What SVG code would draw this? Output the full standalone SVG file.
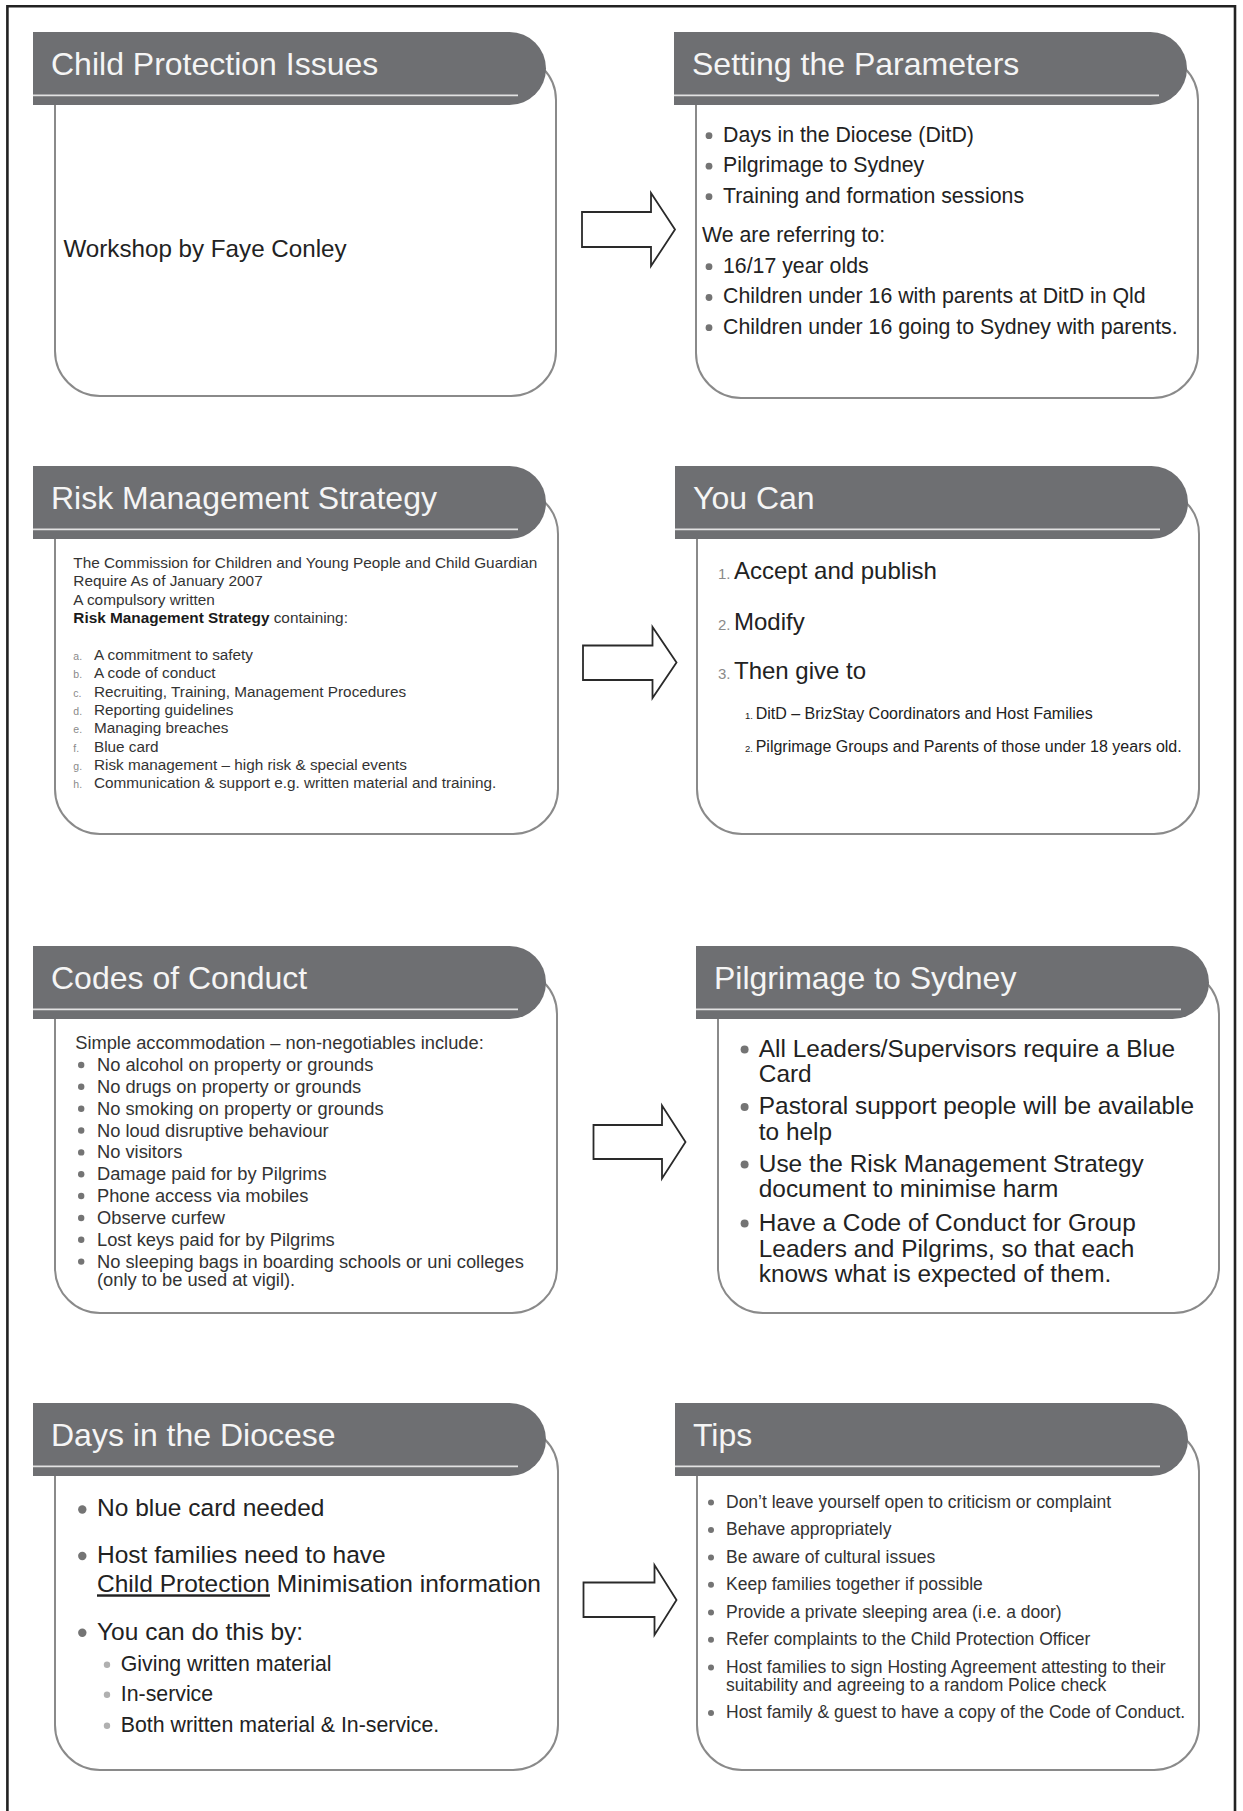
<svg xmlns="http://www.w3.org/2000/svg" xmlns:xlink="http://www.w3.org/1999/xlink" width="1243" height="1811" viewBox="0 0 1243 1811">
<style>
.hdr{fill:#6e6f72}
.hl{stroke:#e2e2e2;stroke-width:1.8}
.box{fill:#fff;stroke:#8a8a8a;stroke-width:2}
.ttl{font-family:"Liberation Sans",Arial,sans-serif;font-size:32px;fill:#f5f5f5}
.t{font-family:"Liberation Sans",Arial,sans-serif;fill:#222}
.s{fill:#333}
.num{fill:#8a8a8a}
.b{fill:#747474}
.b2{fill:#b0b0b0}
.arrow{fill:#fff;stroke:#2a2a2a;stroke-width:1.8;stroke-linejoin:miter}
</style>
<defs>
<g id="hdr">
<path class="hdr" d="M0,0 H476.5 A36.5,36.5 0 0 1 513,36.5 A36.5,36.5 0 0 1 476.5,73 H0 Z"/>
<line class="hl" x1="0" y1="63.3" x2="485" y2="63.3"/>
</g>
</defs>
<rect width="1243" height="1811" fill="#fff"/>
<path d="M7.4,1811 V6.2 H1235 V1811" fill="none" stroke="#222" stroke-width="2.6"/>

<g id="p1">
<rect class="box" x="55" y="55" width="501" height="341" rx="45"/>
<use xlink:href="#hdr" x="33" y="32"/>
<text class="ttl" x="51" y="75">Child Protection Issues</text>
<text class="t" x="63.4" y="256.7" font-size="24.2">Workshop by Faye Conley</text>
</g>

<g id="p2">
<rect class="box" x="696" y="55" width="502" height="343" rx="45"/>
<use xlink:href="#hdr" x="674" y="32"/>
<text class="ttl" x="692" y="75">Setting the Parameters</text>
<g class="b">
<circle cx="709" cy="135.7" r="3.4"/><circle cx="709" cy="166.2" r="3.4"/><circle cx="709" cy="196.7" r="3.4"/>
<circle cx="709" cy="266.7" r="3.4"/><circle cx="709" cy="297.5" r="3.4"/><circle cx="709" cy="327.7" r="3.4"/>
</g>
<g class="t" font-size="21.3">
<text x="723" y="141.5">Days in the Diocese (DitD)</text>
<text x="723" y="172">Pilgrimage to Sydney</text>
<text x="723" y="202.5">Training and formation sessions</text>
<text x="702" y="241.5">We are referring to:</text>
<text x="723" y="272.5">16/17 year olds</text>
<text x="723" y="303.3">Children under 16 with parents at DitD in Qld</text>
<text x="723" y="333.5">Children under 16 going to Sydney with parents.</text>
</g>
</g>

<g id="p3">
<rect class="box" x="55" y="489" width="503" height="345" rx="45"/>
<use xlink:href="#hdr" x="33" y="466"/>
<text class="ttl" x="51" y="509">Risk Management Strategy</text>
<g class="t s" font-size="15.35">
<text x="73.3" y="567.5">The Commission for Children and Young People and Child Guardian</text>
<text x="73.3" y="586">Require As of January 2007</text>
<text x="73.3" y="604.5">A compulsory written</text>
<text x="73.3" y="623"><tspan font-weight="bold" fill="#1a1a1a">Risk Management Strategy</tspan> containing:</text>
</g>
<g class="t num" font-size="10.5">
<text x="73.3" y="660">a.</text><text x="73.3" y="678.3">b.</text><text x="73.3" y="696.6">c.</text><text x="73.3" y="715">d.</text>
<text x="73.3" y="733.3">e.</text><text x="73.3" y="751.6">f.</text><text x="73.3" y="770">g.</text><text x="73.3" y="788.3">h.</text>
</g>
<g class="t s" font-size="15.3">
<text x="94" y="660">A commitment to safety</text>
<text x="94" y="678.3">A code of conduct</text>
<text x="94" y="696.6">Recruiting, Training, Management Procedures</text>
<text x="94" y="715">Reporting guidelines</text>
<text x="94" y="733.3">Managing breaches</text>
<text x="94" y="751.6">Blue card</text>
<text x="94" y="770">Risk management – high risk &amp; special events</text>
<text x="94" y="788.3">Communication &amp; support e.g. written material and training.</text>
</g>
</g>

<g id="p4">
<rect class="box" x="697" y="489" width="502" height="345" rx="45"/>
<use xlink:href="#hdr" x="675" y="466"/>
<text class="ttl" x="693" y="509">You Can</text>
<g class="t num" font-size="15">
<text x="718" y="579">1.</text><text x="718" y="630">2.</text><text x="718" y="679.3">3.</text>
</g>
<g class="t" font-size="24" fill="#111">
<text x="734" y="579">Accept and publish</text>
<text x="734" y="630">Modify</text>
<text x="734" y="679.3">Then give to</text>
</g>
<g class="t" font-size="9.5" fill="#aaa">
<text x="745" y="719.3">1.</text><text x="745" y="751.7">2.</text>
</g>
<g class="t" font-size="16" fill="#444">
<text x="755.7" y="719.3">DitD – BrizStay Coordinators and Host Families</text>
<text x="755.7" y="751.7">Pilgrimage Groups and Parents of those under 18 years old.</text>
</g>
</g>

<g id="p5">
<rect class="box" x="55" y="969" width="502" height="344" rx="45"/>
<use xlink:href="#hdr" x="33" y="946"/>
<text class="ttl" x="51" y="989">Codes of Conduct</text>
<g class="b">
<circle cx="81.2" cy="1065" r="3.2"/><circle cx="81.2" cy="1086.8" r="3.2"/><circle cx="81.2" cy="1108.7" r="3.2"/>
<circle cx="81.2" cy="1130.5" r="3.2"/><circle cx="81.2" cy="1152.4" r="3.2"/><circle cx="81.2" cy="1174.2" r="3.2"/>
<circle cx="81.2" cy="1196" r="3.2"/><circle cx="81.2" cy="1218" r="3.2"/><circle cx="81.2" cy="1239.8" r="3.2"/>
<circle cx="81.2" cy="1261.6" r="3.2"/>
</g>
<g class="t s" font-size="18.3">
<text x="75.2" y="1049.3">Simple accommodation – non-negotiables include:</text>
<text x="97" y="1071">No alcohol on property or grounds</text>
<text x="97" y="1092.8">No drugs on property or grounds</text>
<text x="97" y="1114.7">No smoking on property or grounds</text>
<text x="97" y="1136.5">No loud disruptive behaviour</text>
<text x="97" y="1158.4">No visitors</text>
<text x="97" y="1180.2">Damage paid for by Pilgrims</text>
<text x="97" y="1202">Phone access via mobiles</text>
<text x="97" y="1224">Observe curfew</text>
<text x="97" y="1245.8">Lost keys paid for by Pilgrims</text>
<text x="97" y="1267.6">No sleeping bags in boarding schools or uni colleges</text>
<text x="97" y="1285.6">(only to be used at vigil).</text>
</g>
</g>

<g id="p6">
<rect class="box" x="718" y="969" width="501" height="344" rx="45"/>
<use xlink:href="#hdr" x="696" y="946"/>
<text class="ttl" x="714" y="989">Pilgrimage to Sydney</text>
<g class="b">
<circle cx="744.6" cy="1049.5" r="4"/><circle cx="744.6" cy="1107" r="4"/>
<circle cx="744.6" cy="1164.5" r="4"/><circle cx="744.6" cy="1223.5" r="4"/>
</g>
<g class="t" font-size="24.4">
<text x="758.8" y="1056.7">All Leaders/Supervisors require a Blue</text>
<text x="758.8" y="1082.3">Card</text>
<text x="758.8" y="1114.3">Pastoral support people will be available</text>
<text x="758.8" y="1140">to help</text>
<text x="758.8" y="1171.7">Use the Risk Management Strategy</text>
<text x="758.8" y="1197.3">document to minimise harm</text>
<text x="758.8" y="1230.7">Have a Code of Conduct for Group</text>
<text x="758.8" y="1256.5">Leaders and Pilgrims, so that each</text>
<text x="758.8" y="1281.5">knows what is expected of them.</text>
</g>
</g>

<g id="p7">
<rect class="box" x="55" y="1426" width="503" height="344" rx="45"/>
<use xlink:href="#hdr" x="33" y="1403"/>
<text class="ttl" x="51" y="1446">Days in the Diocese</text>
<g class="b">
<circle cx="82.3" cy="1509.5" r="4.2"/><circle cx="82.3" cy="1556" r="4.2"/><circle cx="82.3" cy="1632.8" r="4.2"/>
</g>
<g class="b2">
<circle cx="107" cy="1664.7" r="3.2"/><circle cx="107" cy="1694.7" r="3.2"/><circle cx="107" cy="1725.7" r="3.2"/>
</g>
<g class="t" font-size="24.5">
<text x="97" y="1516">No blue card needed</text>
<text x="97" y="1562.7">Host families need to have</text>
<text x="97" y="1592.3"><tspan text-decoration="underline">Child Protection</tspan> Minimisation information</text>
<text x="97" y="1639.5">You can do this by:</text>
</g>
<g class="t" font-size="21.3" fill="#2a2a2a">
<text x="120.8" y="1670.7">Giving written material</text>
<text x="120.8" y="1700.7">In-service</text>
<text x="120.8" y="1731.7">Both written material &amp; In-service.</text>
</g>
</g>

<g id="p8">
<rect class="box" x="697" y="1426" width="502" height="344" rx="45"/>
<use xlink:href="#hdr" x="675" y="1403"/>
<text class="ttl" x="693" y="1446">Tips</text>
<g class="b">
<circle cx="711" cy="1502.5" r="3"/><circle cx="711" cy="1530" r="3"/><circle cx="711" cy="1557.4" r="3"/>
<circle cx="711" cy="1584.7" r="3"/><circle cx="711" cy="1612.4" r="3"/><circle cx="711" cy="1639.7" r="3"/>
<circle cx="711" cy="1667.4" r="3"/><circle cx="711" cy="1713" r="3"/>
</g>
<g class="t s" font-size="17.5">
<text x="726" y="1507.7">Don’t leave yourself open to criticism or complaint</text>
<text x="726" y="1535.3">Behave appropriately</text>
<text x="726" y="1562.7">Be aware of cultural issues</text>
<text x="726" y="1590">Keep families together if possible</text>
<text x="726" y="1617.7">Provide a private sleeping area (i.e. a door)</text>
<text x="726" y="1645">Refer complaints to the Child Protection Officer</text>
<text x="726" y="1672.7">Host families to sign Hosting Agreement attesting to their</text>
<text x="726" y="1690.7">suitability and agreeing to a random Police check</text>
<text x="726" y="1718.3">Host family &amp; guest to have a copy of the Code of Conduct.</text>
</g>
</g>

<g id="connectors">
<path class="arrow" d="M582,212 H651 V193 L675,229.5 L651,266 V247 H582 Z"/>
<path class="arrow" d="M583,645.5 H652.5 V627 L676.5,662.5 L652.5,698 V680 H583 Z"/>
<path class="arrow" d="M593.5,1125 H662 V1105.5 L685.5,1142 L662,1178.5 V1159 H593.5 Z"/>
<path class="arrow" d="M583.5,1582.5 H654.5 V1565 L676.5,1600 L654.5,1635 V1617 H583.5 Z"/>
</g>
</svg>
